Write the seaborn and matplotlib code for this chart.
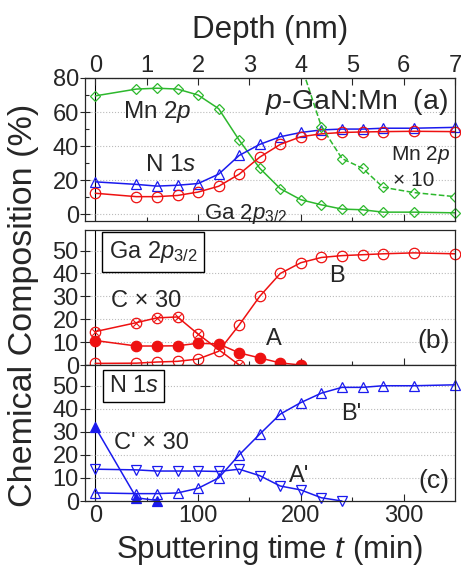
import numpy as np
import pandas as pd
import matplotlib
matplotlib.use("Agg")
import matplotlib.pyplot as plt
import seaborn as sns

# sputtering times (min)
t_all = [0, 40, 60, 80, 100, 120, 140, 160, 180, 200, 220, 240, 260, 280, 310, 350]

# panel (a)
mn_2p = [69.5, 73.5, 74, 73.5, 70, 62, 43.5, 27, 15, 8.5, 5.5, 3, 2.6, 1.2, 1.2, 0.8]
n_1s = [19, 17.5, 16.5, 17, 18, 23.5, 34.5, 41, 45.5, 48, 49.5, 50, 50, 50.5, 50.5, 51]
ga_2p = [12.3, 10.3, 10.3, 11, 13, 16.4, 23.5, 33.5, 41, 45.5, 47.2, 48, 48.3, 48.5, 48.7, 48.5]
t_mn10 = [200, 220, 240, 260, 280, 310, 350]
mn_2p_x10 = [88, 51.5, 32.7, 27, 15.8, 12.7, 10.3]

# panel (b) Ga 2p3/2 components
ga_B = [0.7, 0.8, 1.3, 1.6, 2.6, 6, 17.5, 30, 40, 44.7, 47, 47.8, 48.2, 48.6, 49, 48.6]
t_gaA = [0, 40, 60, 80, 100, 120, 140, 160, 180, 200]
ga_A = [10.7, 8.3, 8.3, 8.4, 9.5, 9.2, 5.3, 3.1, 0.9, 0]
t_gaC = [0, 40, 60, 80, 100, 140]
ga_C_x30 = [14.6, 18.5, 20.6, 21, 13.5, 0]

# panel (c) N 1s components
n_B = [3.5, 3.2, 3.2, 3.5, 5.5, 10, 20, 29, 37.7, 42.7, 46.8, 49.3, 49.3, 50, 50, 50.4]
t_nA = [0, 40, 60, 80, 100, 120, 140, 160, 180, 200, 220, 240]
n_A = [13.8, 13.5, 13, 13, 13, 12.8, 13.8, 11, 6.5, 4.8, 1.4, 0]
t_nC = [0, 40, 60]
n_C_x30 = [32, 1.4, 0.2]

RED = "#ee1111"
BLUE = "#1a1aee"
GREEN = "#2db82d"

sns.set_style("ticks")
plt.rcParams['font.family'] = ['Liberation Sans', 'DejaVu Sans']
plt.rcParams['mathtext.fontset'] = 'custom'
plt.rcParams['mathtext.rm'] = 'Liberation Sans'
plt.rcParams['mathtext.it'] = 'Liberation Sans:italic'
plt.rcParams['xtick.direction'] = 'in'
plt.rcParams['ytick.direction'] = 'in'

W, H = 461, 567
fig = plt.figure(figsize=(W / 100, H / 100), dpi=100)


def box(x0, y0, x1, y1):
    return [x0 / W, 1 - y1 / H, (x1 - x0) / W, (y1 - y0) / H]


ax_a = fig.add_axes(box(85, 78, 455, 221))
ax_b = fig.add_axes(box(85, 230, 455, 365))
ax_c = fig.add_axes(box(85, 365, 455, 501))


def line(ax, x, y, color, marker, filled=False, ms=6.5, ls='-'):
    sns.lineplot(x=x, y=y, ax=ax, color=color, lw=1.1, ls=ls, marker=marker, ms=ms,
                 markerfacecolor=color if filled else 'none', markeredgecolor=color,
                 markeredgewidth=0.9, clip_on=False, estimator=None, sort=False)


# panel (a)
line(ax_a, t_all, mn_2p, GREEN, 'D', ms=5)
line(ax_a, t_all, n_1s, BLUE, '^', ms=7)
line(ax_a, t_all, ga_2p, RED, 'o', ms=7.5)
sns.lineplot(x=t_mn10, y=mn_2p_x10, ax=ax_a, color=GREEN, lw=1.1, ls='--', marker='D', ms=5,
             markerfacecolor='none', markeredgecolor=GREEN, markeredgewidth=0.9,
             estimator=None, sort=False)
ax_a.set_ylim(-4, 80)
ax_a.set_yticks([0, 20, 40, 60, 80])
ax_a.set_yticks(np.arange(10, 80, 20), minor=True)

# panel (b)
line(ax_b, t_all, ga_B, RED, 'o', ms=7.5)
line(ax_b, t_gaA, ga_A, RED, 'o', filled=True, ms=7.5)
line(ax_b, t_gaC, ga_C_x30, RED, 'o', ms=7.5)
sns.scatterplot(x=t_gaC, y=ga_C_x30, ax=ax_b, color=RED, marker='x', s=22, linewidth=0.8, clip_on=False)

# panel (c)
line(ax_c, t_all, n_B, BLUE, '^', ms=7)
line(ax_c, t_nA, n_A, BLUE, 'v', ms=7)
line(ax_c, t_nC, n_C_x30, BLUE, '^', filled=True, ms=7)

for ax in (ax_b, ax_c):
    ax.set_ylim(0, 59)
    ax.set_yticks([0, 10, 20, 30, 40, 50])

for ax in (ax_a, ax_b, ax_c):
    ax.set_xlim(-10, 350)
    ax.set_xticks([0, 100, 200, 300])
    ax.set_xticks([50, 150, 250], minor=True)
    ax.axvline(0, color='black', lw=0.8, zorder=0)
    ax.grid(axis='y', which='major', color='#bbbbbb', ls=':', lw=0.8)
    ax.tick_params(axis='both', which='major', length=5, width=0.8, labelsize=17, pad=1,
                   top=False, right=False)
    ax.tick_params(axis='both', which='minor', length=3, width=0.8, top=False, right=False)
    ax.tick_params(axis='y', direction='inout', length=7)
    for sp in ax.spines.values():
        sp.set_linewidth(0.9)
    ax.set_xlabel('')
    ax.set_ylabel('')

ax_a.tick_params(axis='x', labelbottom=False)
ax_b.tick_params(axis='x', labelbottom=False)
ax_c.tick_params(axis='x', pad=3)

depth = ax_a.secondary_xaxis('top', functions=(lambda t: t / 50, lambda d: d * 50))
depth.set_xticks(range(0, 8))
depth.tick_params(axis='x', direction='in', length=5, width=0.8, labelsize=17, pad=1)
depth.set_xlabel('Depth (nm)', fontsize=22.5, labelpad=12)

ax_c.set_xlabel('Sputtering time $t$ (min)', fontsize=22.5, labelpad=4)
fig.text(0.052, 0.462, 'Chemical Composition (%)', rotation=90, fontsize=24.5,
         ha='center', va='center')

# annotations panel (a)
ax_a.text(60, 60, 'Mn 2$p$', fontsize=17.5, ha='center', va='center')
ax_a.text(73, 29, 'N 1$s$', fontsize=17.5, ha='center', va='center')
ax_a.text(146, 0, 'Ga 2$p_{3/2}$', fontsize=16, ha='center', va='center')
ax_a.text(343, 66, '$p$-GaN:Mn  (a)', fontsize=20.5, ha='right', va='center')
ax_a.text(345, 35, 'Mn 2$p$', fontsize=15, ha='right', va='center')
ax_a.text(330, 20, '× 10', fontsize=15, ha='right', va='center')

# annotations panel (b)
bprops = dict(boxstyle='square,pad=0.3', fc='white', ec='black', lw=1.0)
ax_b.text(13, 49.5, 'Ga 2$p_{3/2}$', fontsize=17, ha='left', va='center', bbox=bprops)
ax_b.text(49, 28, 'C × 30', fontsize=17, ha='center', va='center')
ax_b.text(174, 11.5, 'A', fontsize=17, ha='center', va='center')
ax_b.text(235, 38.7, 'B', fontsize=17, ha='center', va='center')
ax_b.text(345, 10.7, '(b)', fontsize=19, ha='right', va='center')

# annotations panel (c)
ax_c.text(13, 50, 'N 1$s$', fontsize=17, ha='left', va='center',
          bbox=dict(boxstyle='square,pad=0.22', fc='white', ec='black', lw=1.0))
ax_c.text(55, 25.2, "C' × 30", fontsize=17, ha='center', va='center')
ax_c.text(198, 10.9, "A'", fontsize=17, ha='center', va='center')
ax_c.text(249, 37.8, "B'", fontsize=17, ha='center', va='center')
ax_c.text(345, 8.7, '(c)', fontsize=19, ha='right', va='center')

fig.savefig('out.png', dpi=100)
